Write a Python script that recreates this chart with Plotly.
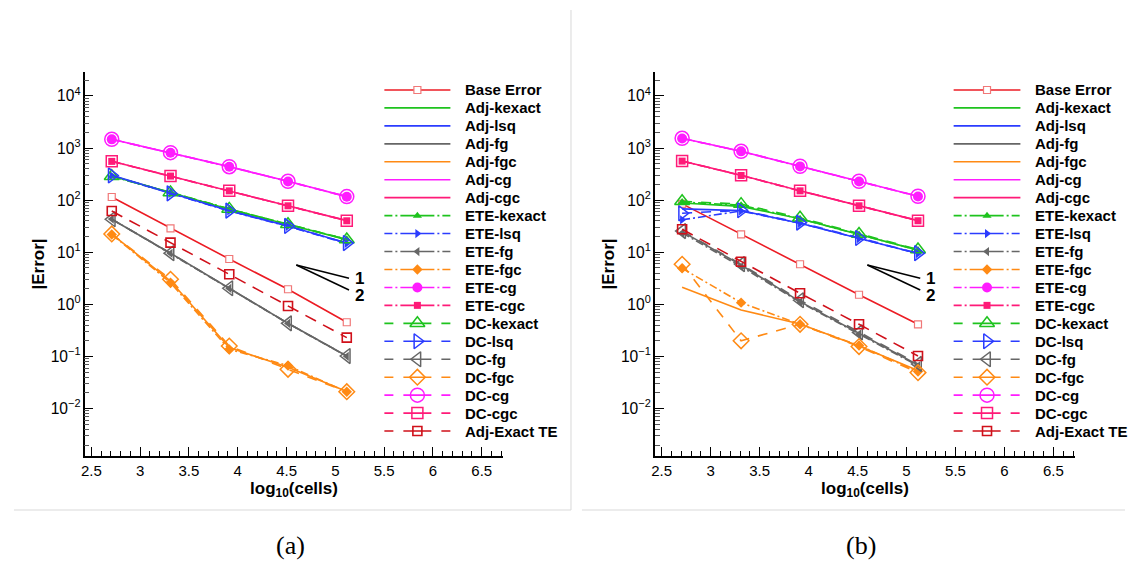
import math
import plotly.graph_objects as go

# ---------------- data ----------------
x_log10_cells = [2.709, 3.311, 3.913, 4.515, 5.117]

series_names = [
    "Base Error", "Adj-kexact", "Adj-lsq", "Adj-fg", "Adj-fgc", "Adj-cg", "Adj-cgc",
    "ETE-kexact", "ETE-lsq", "ETE-fg", "ETE-fgc", "ETE-cg", "ETE-cgc",
    "DC-kexact", "DC-lsq", "DC-fg", "DC-fgc", "DC-cg", "DC-cgc", "Adj-Exact TE",
]

# panel (a)
a_base_error = [115, 28.8, 7.43, 1.95, 0.454]
a_adj_kexact = [290, 140, 67, 34, 17.5]
a_adj_lsq = [300, 136, 63, 32, 15.0]
a_adj_fg = [43, 9.6, 2.04, 0.433, 0.102]
a_adj_fgc = [22.4, 2.8, 0.148, 0.062, 0.0213]
a_adj_cg = [1473, 817, 440, 230, 117]
a_adj_cgc = [557, 291, 152, 78.5, 40.5]
a_ete_kexact = [285, 142, 68, 35, 17.8]
a_ete_lsq = [295, 134, 62, 31.5, 14.8]
a_ete_fg = [43.5, 9.5, 2.02, 0.43, 0.101]
a_ete_fgc = [22.0, 2.62, 0.137, 0.0667, 0.0210]
a_ete_cg = [1470, 815, 438, 229, 116]
a_ete_cgc = [555, 290, 151, 78, 40.2]
a_dc_kexact = [288, 141, 68, 34.5, 17.6]
a_dc_lsq = [298, 135, 63, 32, 15.0]
a_dc_fg = [43, 9.6, 2.04, 0.433, 0.102]
a_dc_fgc = [22.5, 3.03, 0.159, 0.0568, 0.0211]
a_dc_cg = [1473, 817, 440, 230, 117]
a_dc_cgc = [557, 291, 152, 78.5, 40.5]
a_adj_exact_te = [62, 15.3, 3.78, 0.93, 0.23]

# panel (b)
b_base_error = [85, 22.1, 5.89, 1.53, 0.415]
b_adj_kexact = [88, 76, 44, 22, 11.0]
b_adj_lsq = [68, 63, 36, 18.5, 9.5]
b_adj_fg = [24.9, 5.7, 1.13, 0.279, 0.0687]
b_adj_fgc = [2.13, 0.78, 0.42, 0.159, 0.0537]
b_adj_cg = [1538, 867, 447, 230, 119]
b_adj_cgc = [565, 300, 152, 78.5, 40.5]
b_ete_kexact = [92, 80, 44, 22, 11.0]
b_ete_lsq = [42, 62, 36, 18.3, 9.4]
b_ete_fg = [23.5, 5.3, 1.1, 0.27, 0.066]
b_ete_fgc = [4.93, 1.08, 0.415, 0.162, 0.0515]
b_ete_cg = [1530, 865, 445, 229, 118]
b_ete_cgc = [562, 298, 151, 78, 40.3]
b_dc_kexact = [95, 84, 46, 22.5, 11.3]
b_dc_lsq = [56, 64, 37, 18.8, 9.6]
b_dc_fg = [25.5, 5.9, 1.2, 0.29, 0.072]
b_dc_fgc = [5.89, 0.20, 0.415, 0.155, 0.049]
b_dc_cg = [1538, 867, 447, 230, 119]
b_dc_cgc = [565, 300, 152, 78.5, 40.5]
b_adj_exact_te = [27.6, 6.6, 1.63, 0.415, 0.102]

panel_a = [a_base_error, a_adj_kexact, a_adj_lsq, a_adj_fg, a_adj_fgc, a_adj_cg, a_adj_cgc,
           a_ete_kexact, a_ete_lsq, a_ete_fg, a_ete_fgc, a_ete_cg, a_ete_cgc,
           a_dc_kexact, a_dc_lsq, a_dc_fg, a_dc_fgc, a_dc_cg, a_dc_cgc, a_adj_exact_te]
panel_b = [b_base_error, b_adj_kexact, b_adj_lsq, b_adj_fg, b_adj_fgc, b_adj_cg, b_adj_cgc,
           b_ete_kexact, b_ete_lsq, b_ete_fg, b_ete_fgc, b_ete_cg, b_ete_cgc,
           b_dc_kexact, b_dc_lsq, b_dc_fg, b_dc_fgc, b_dc_cg, b_dc_cgc, b_adj_exact_te]

# slope indicator (order 1 and order 2)
slope_x = [4.60, 5.14]
slope_y_order1 = [5.7, 3.17]
slope_y_order2 = [5.7, 1.89]
slope_labels = ["1", "2"]
slope_label_x = 5.18
slope_label_y = [3.2, 1.5]

captions = ["(a)", "(b)"]

# ---------------- styles ----------------
W, H = 1133, 562
FAM_COL = {"kexact": "#1ec31e", "lsq": "#2b3cff", "fg": "#666666",
           "fgc": "#ff8a14", "cg": "#ff1cff", "cgc": "#ff1a78"}
BASE_COL = "#ec1c24"
EXACT_COL = "#d0101a"
ETE_SYM = {"kexact": ("triangle-up", 8), "lsq": ("triangle-right", 8), "fg": ("triangle-left", 8),
           "fgc": ("diamond", 8), "cg": ("circle", 10), "cgc": ("square", 7)}
DC_SYM = {"kexact": ("triangle-up-open", 13), "lsq": ("triangle-right-open", 13),
          "fg": ("triangle-left-open", 13), "fgc": ("diamond-open", 12),
          "cg": ("circle-open", 14), "cgc": ("square-open", 11)}
LW = 1.6


def style(name):
    if name == "Base Error":
        return dict(color=BASE_COL, dash="solid", leg_dash="solid",
                    marker=dict(symbol="square", size=7, color="white",
                                line=dict(color="#f07878", width=1.2)))
    if name == "Adj-Exact TE":
        return dict(color=EXACT_COL, dash="12px,8px", leg_dash="9px,10px,28px,10px,9px",
                    marker=dict(symbol="square-open", size=9, color=EXACT_COL,
                                line=dict(color=EXACT_COL, width=1.6)))
    kind, fam = name.split("-")
    c = FAM_COL[fam]
    if kind == "Adj":
        return dict(color=c, dash="solid", leg_dash="solid", marker=None)
    if kind == "ETE":
        s, sz = ETE_SYM[fam]
        return dict(color=c, dash="8px,3px,2px,3px",
                    leg_dash="8px,3px,2px,3px,34px,3px,2px,3px,8px",
                    marker=dict(symbol=s, size=sz, color=c, line=dict(width=0)))
    s, sz = DC_SYM[fam]
    return dict(color=c, dash="10px,9px", leg_dash="9px,10px,28px,10px,9px",
                marker=dict(symbol=s, size=sz, color=c, line=dict(color=c, width=1.5)))


def px(p):
    return p / W


def py(p):
    return 1 - p / H


fig = go.Figure()

# ---------------- data traces ----------------
for data, xa, ya in [(panel_a, "x", "y"), (panel_b, "x2", "y2")]:
    for name, vals in zip(series_names, data):
        st = style(name)
        kw = dict(x=x_log10_cells, y=vals, xaxis=xa, yaxis=ya, showlegend=False,
                  cliponaxis=False, name=name,
                  line=dict(color=st["color"], width=LW, dash=st["dash"]))
        if st["marker"] is None:
            kw["mode"] = "lines"
        else:
            kw["mode"] = "lines+markers"
            kw["marker"] = st["marker"]
        fig.add_trace(go.Scatter(**kw))
    fig.add_trace(go.Scatter(x=slope_x, y=slope_y_order1, mode="lines", xaxis=xa, yaxis=ya,
                             line=dict(color="black", width=1.5), showlegend=False))
    fig.add_trace(go.Scatter(x=slope_x, y=slope_y_order2, mode="lines", xaxis=xa, yaxis=ya,
                             line=dict(color="black", width=1.5), showlegend=False))

# ---------------- hand-made legends ----------------
annotations = []
for xa, ya, text_x in [("x3", "y3", px(460.7)), ("x4", "y4", px(1032.7))]:
    for i, name in enumerate(series_names):
        st = style(name)
        fig.add_trace(go.Scatter(x=[0, 1], y=[i, i], mode="lines", xaxis=xa, yaxis=ya,
                                 line=dict(color=st["color"], width=LW, dash=st["leg_dash"]),
                                 showlegend=False, hoverinfo="skip"))
        if st["marker"] is not None:
            fig.add_trace(go.Scatter(x=[0.5], y=[i], mode="markers", xaxis=xa, yaxis=ya,
                                     marker=st["marker"], showlegend=False,
                                     cliponaxis=False, hoverinfo="skip"))
        annotations.append(dict(text="<b>%s</b>" % name, x=text_x, xref="paper",
                                y=i, yref=ya, xanchor="left", yanchor="middle",
                                showarrow=False,
                                font=dict(family="Liberation Sans", size=15, color="black")))

for xr, yr in [("x", "y"), ("x2", "y2")]:
    for lab, ly in zip(slope_labels, slope_label_y):
        annotations.append(dict(text="<b>%s</b>" % lab, x=slope_label_x, xref=xr,
                                y=math.log10(ly), yref=yr, xanchor="left", yanchor="middle",
                                showarrow=False,
                                font=dict(family="Liberation Sans", size=17, color="black")))

for cap, cx in zip(captions, [288, 860]):
    annotations.append(dict(text=cap, x=px(cx), y=py(545), xref="paper", yref="paper",
                            xanchor="center", yanchor="middle", showarrow=False,
                            font=dict(family="Liberation Serif", size=26, color="black")))

# ---------------- axes ----------------
tickfont = dict(family="Liberation Sans", size=15, color="black")


def xaxis_cfg(domain, anchor):
    return dict(domain=domain, anchor=anchor, range=[2.432, 6.72], tick0=2.5, dtick=0.5,
                ticks="inside", ticklen=9, tickwidth=1.3, tickcolor="black",
                showline=True, linecolor="black", linewidth=1.5,
                showgrid=False, zeroline=False, tickfont=tickfont,
                minor=dict(ticks="inside", ticklen=5, dtick=0.1, tickcolor="black", tickwidth=1),
                title=dict(text="<b>log<sub>10</sub>(cells)</b>", standoff=2,
                           font=dict(family="Liberation Sans", size=17, color="black")))


def yaxis_cfg(anchor):
    return dict(domain=[py(456), py(72)], anchor=anchor, type="log", range=[-2.91, 4.46],
                dtick=1, exponentformat="power",
                labelalias={"1": "10<sup>0</sup>", "10": "10<sup>1</sup>"},
                ticks="inside", ticklen=9, tickwidth=1.3, tickcolor="black",
                showline=True, linecolor="black", linewidth=1.5,
                showgrid=False, zeroline=False,
                tickfont=dict(family="Liberation Sans", size=12.5, color="black"),
                minor=dict(ticks="inside", ticklen=5, dtick="D1", tickcolor="#555555", tickwidth=1),
                title=dict(text="<b>|Error|</b>", standoff=2,
                           font=dict(family="Liberation Sans", size=17, color="black")))


hidden = dict(visible=False, showgrid=False, zeroline=False, showticklabels=False,
              ticks="", showline=False, tickmode="array", tickvals=[])
leg_dom_y = [py(440), py(81)]

shapes = [
    dict(type="line", xref="paper", yref="paper", x0=px(10), x1=px(569), y0=py(510), y1=py(510),
         line=dict(color="#d9d9d9", width=1)),
    dict(type="line", xref="paper", yref="paper", x0=px(569), x1=px(569), y0=py(10), y1=py(510),
         line=dict(color="#d9d9d9", width=1)),
    dict(type="line", xref="paper", yref="paper", x0=px(580), x1=px(1125), y0=py(510), y1=py(510),
         line=dict(color="#d9d9d9", width=1)),
]

fig.update_layout(
    width=W, height=H, autosize=False,
    margin=dict(l=0, r=0, t=0, b=0),
    paper_bgcolor="white", plot_bgcolor="rgba(0,0,0,0)",
    showlegend=False,
    xaxis=xaxis_cfg([px(81), px(501)], "y"),
    yaxis=yaxis_cfg("x"),
    xaxis2=xaxis_cfg([px(653.3), px(1074.8)], "y2"),
    yaxis2=yaxis_cfg("x2"),
    xaxis3=dict(domain=[px(375.1), px(454.6)], anchor="y3", range=[-0.1, 1.1], **hidden),
    yaxis3=dict(domain=leg_dom_y, anchor="x3", range=[19.5, -0.5], **hidden),
    xaxis4=dict(domain=[px(946.3), px(1026.7)], anchor="y4", range=[-0.1, 1.1], **hidden),
    yaxis4=dict(domain=leg_dom_y, anchor="x4", range=[19.5, -0.5], **hidden),
    annotations=annotations,
    shapes=shapes,
)

fig.write_html("out.html")
